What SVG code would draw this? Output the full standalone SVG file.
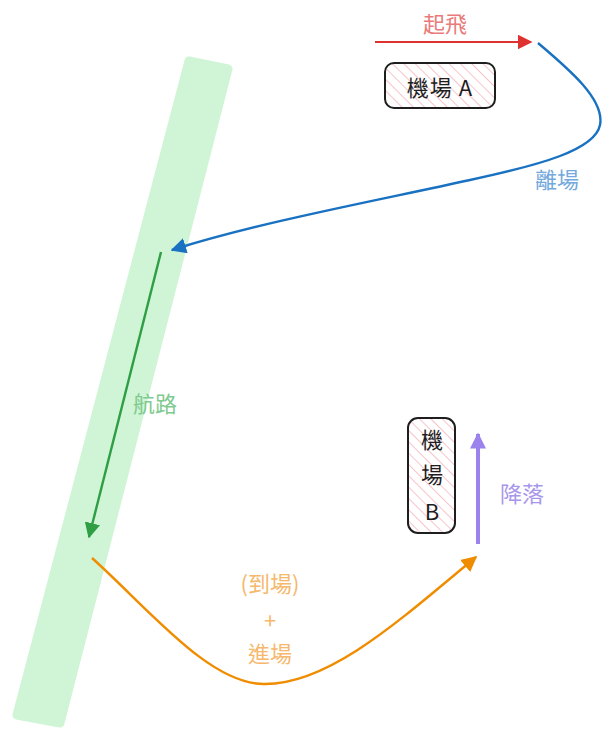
<svg xmlns="http://www.w3.org/2000/svg" width="610" height="742" viewBox="0 0 610 742">
<style>
.lbl{font-family:"Noto Sans CJK TC","Noto Sans CJK SC",sans-serif;font-size:22px;text-anchor:middle;dominant-baseline:central}
.box{font-family:"Noto Sans CJK TC","Noto Sans CJK SC",sans-serif;font-size:22px;text-anchor:middle;dominant-baseline:central;fill:#1e1e1e}
.nb{fill:url(#hatch);stroke:#1e1e1e;stroke-width:2}
</style>
<defs>
<pattern id="hatch" patternUnits="userSpaceOnUse" width="8" height="8" patternTransform="rotate(-45)">
<rect width="8" height="8" fill="#ffffff"/>
<line x1="0" y1="0" x2="0" y2="8" stroke="#f3a5b1" stroke-width="1.3"/>
</pattern>
<marker id="aRed" viewBox="0 0 10 10" refX="9" refY="5" markerWidth="7.5" markerHeight="7.5" markerUnits="strokeWidth" orient="auto"><path d="M0,0 L10,5 L0,10 Z" fill="#e03131"/></marker>
<marker id="aBlue" viewBox="0 0 10 10" refX="9" refY="5" markerWidth="6.5" markerHeight="6.5" markerUnits="strokeWidth" orient="auto"><path d="M0,0 L10,5 L0,10 Z" fill="#1971c2"/></marker>
<marker id="aGreen" viewBox="0 0 10 10" refX="9" refY="5" markerWidth="6.5" markerHeight="6.5" markerUnits="strokeWidth" orient="auto"><path d="M0,0 L10,5 L0,10 Z" fill="#2f9e44"/></marker>
<marker id="aOrange" viewBox="0 0 10 10" refX="9" refY="5" markerWidth="6.5" markerHeight="6.5" markerUnits="strokeWidth" orient="auto"><path d="M0,0 L10,5 L0,10 Z" fill="#f08c00"/></marker>
<marker id="aPurple" viewBox="0 0 10 10" refX="9" refY="5" markerWidth="4.2" markerHeight="4" markerUnits="strokeWidth" orient="auto"><path d="M0,0 L10,5 L0,10 Z" fill="#9b82ec"/></marker>
</defs>
<rect width="610" height="742" fill="#ffffff"/>

<g id="route-band">
<polygon points="189,61 228,69 60,723 17,715" fill="#cff5d6" stroke="#cff5d6" stroke-width="9" stroke-linejoin="round"/>
</g>

<g id="connectors" fill="none">
<path d="M375,42 L531,42" stroke="#e03131" stroke-width="2" marker-end="url(#aRed)"/>
<path d="M538,43 C570,70 605,100 600,125 C595,150 540,165 470,180 C380,200 260,222 172,250" stroke="#1971c2" stroke-width="2.4" marker-end="url(#aBlue)"/>
<path d="M161,252 L89,537" stroke="#2f9e44" stroke-width="2.4" marker-end="url(#aGreen)"/>
<path d="M92,558 C150,610 210,685 265,684 C330,684 400,620 476,557" stroke="#f08c00" stroke-width="2.4" marker-end="url(#aOrange)"/>
<path d="M478,544 L478,434" stroke="#9b82ec" stroke-width="4" marker-end="url(#aPurple)"/>
</g>

<g id="airport-a">
<rect class="nb" x="385" y="63" width="110" height="45" rx="9"/>
<text class="box" x="440" y="86" letter-spacing="1">機場 A</text>
</g>

<g id="airport-b">
<rect class="nb" x="408" y="418" width="47" height="115" rx="10"/>
<text class="box" x="432" y="438">機</text>
<text class="box" x="432" y="473">場</text>
<text class="box" x="432" y="510">B</text>
</g>

<g id="labels">
<text class="lbl" x="445" y="22" fill="#ea7a7a">起飛</text>
<text class="lbl" x="557" y="178" fill="#74a9dc">離場</text>
<text class="lbl" x="155" y="402" fill="#7fca8f">航路</text>
<text class="lbl" x="522" y="492" fill="#a896ea">降落</text>
<text class="lbl" x="270" y="582" fill="#f5b86d">(到場)</text>
<text class="lbl" x="270" y="619" fill="#f5b86d">+</text>
<text class="lbl" x="270" y="652" fill="#f5b86d">進場</text>
</g>
</svg>
